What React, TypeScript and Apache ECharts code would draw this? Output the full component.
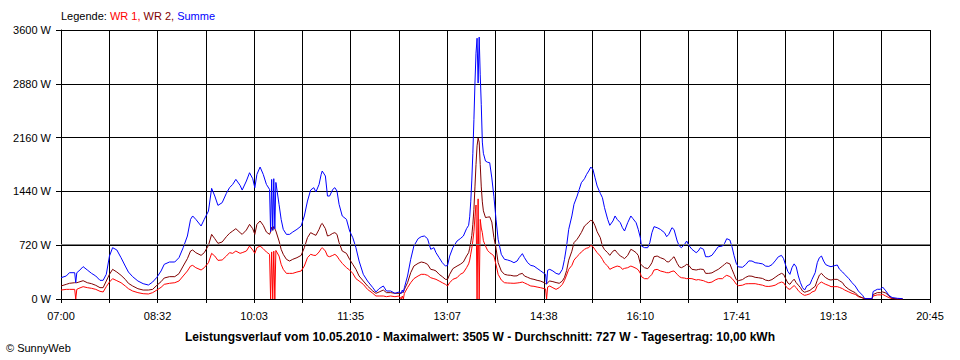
import React, { useEffect, useRef } from "react";
import * as echarts from "echarts";

// minutes after 07:00
const minutes = [0,5,8,13,14,15,17,21,25,29,33,37,40,43,46,49,53,57,61,64,68,73,78,83,87,91,95,98,103,108,112,116,120,123,125,128,133,136,140,143,146,149,153,157,160,163,166,170,172,176,179,182,184,186,189,192,195,198,199,200,201,202,203,204,207,209,211,214,217,220,224,228,231,234,237,240,242,245,247,248,251,253,255,258,260,262,264,267,271,274,277,280,283,287,291,296,299,302,306,309,313,317,321,323,324,325,326,329,332,335,339,342,345,348,351,354,356,359,362,365,367,369,372,376,379,382,385,387,388,389,390,391,392,393,394,395,396,397,398,399,400,401,403,405,407,409,411,413,415,418,421,424,427,430,433,435,438,440,443,446,449,452,455,459,460,461,462,464,467,470,473,476,478,480,482,485,487,490,492,494,497,499,501,503,505,507,509,512,514,516,519,521,524,526,528,531,533,535,538,541,543,546,548,550,551,554,557,559,561,563,566,569,573,575,577,580,582,585,587,589,592,594,596,599,603,605,607,610,612,615,618,621,624,628,630,632,635,637,639,641,643,647,650,653,656,659,662,666,669,672,675,678,681,684,686,688,690,692,694,696,698,700,702,704,706,708,711,713,716,718,720,722,724,726,729,731,734,737,739,742,744,748,751,754,757,761,763,767,770,771,775,778,780,783,786,789,794,799];

const summe = [285,308,352,352,218,352,375,433,388,343,308,250,250,330,575,687,656,553,441,361,299,241,205,187,227,290,375,464,495,495,553,687,843,1066,1111,1066,977,1066,1177,1481,1378,1253,1289,1414,1490,1534,1601,1521,1458,1579,1690,1610,1490,1668,1766,1668,1534,1467,900,1600,920,1610,940,1560,1267,1066,932,865,865,896,932,977,1111,1311,1458,1490,1432,1534,1668,1713,1646,1378,1378,1467,1490,1445,1267,1111,1066,910,821,687,508,330,241,152,94,138,174,107,107,76,94,76,120,90,152,308,531,709,807,834,843,807,665,687,620,553,486,441,450,575,687,776,807,843,941,986,1100,1300,1592,1950,2400,2890,3290,3490,2890,3505,3000,2600,2100,1950,1846,1830,1824,1620,1369,1066,800,598,531,522,508,486,508,553,607,553,486,450,440,410,380,340,330,200,385,397,375,343,330,397,531,709,932,1111,1267,1378,1467,1556,1610,1668,1713,1766,1735,1623,1512,1414,1356,1222,1066,986,1044,1111,1066,1021,954,910,1021,1111,1075,1021,932,821,709,687,687,754,887,968,954,932,887,834,865,954,930,776,709,687,731,776,718,665,620,642,687,665,566,566,585,642,700,709,745,807,790,700,580,480,430,425,460,510,508,486,480,470,440,436,460,510,565,584,540,450,370,330,420,470,430,308,218,152,120,174,196,263,352,486,553,575,508,460,441,432,445,455,400,361,330,272,218,174,107,49,5,5,5,100,130,130,160,110,49,20,9,5];

const wr2 = [174,196,210,218,218,218,227,245,218,205,183,152,152,241,330,397,361,317,263,210,174,138,120,120,129,183,232,281,299,299,339,441,540,642,656,620,584,620,718,865,807,745,763,834,879,910,941,888,865,923,999,941,865,999,1044,986,896,865,900,960,920,970,940,910,776,665,598,531,508,531,553,584,687,821,888,865,852,932,999,1012,941,843,852,879,888,865,754,642,611,531,464,397,308,241,174,107,76,94,120,85,85,76,76,76,90,90,129,218,352,441,477,495,486,464,397,388,375,330,299,263,263,330,406,441,464,495,575,620,680,760,850,1000,1200,1500,1800,2050,2154,2100,1800,1500,1300,1180,1090,1095,1100,1030,821,680,486,375,330,320,317,308,310,330,343,308,290,272,263,250,241,218,205,200,220,241,232,220,210,241,290,380,520,640,754,800,843,890,977,1000,1030,1053,1040,980,900,820,709,660,620,584,640,655,620,575,560,540,584,665,650,620,584,470,455,419,406,440,486,566,575,553,531,500,495,540,566,477,430,419,441,464,450,397,388,395,400,395,343,343,350,375,397,441,464,486,470,397,330,260,245,260,290,308,305,290,285,275,252,245,260,290,320,343,330,272,215,196,235,265,218,185,152,107,90,100,115,138,170,250,320,343,310,285,260,254,263,263,245,218,174,129,105,85,40,15,5,5,5,60,85,85,95,80,40,9,0,0];

const wr1 = [120,129,129,129,0,129,143,165,152,143,129,103,94,165,227,272,245,218,174,138,107,85,71,67,85,120,156,196,210,218,241,308,375,441,450,419,388,419,486,611,575,517,522,575,620,611,642,611,620,642,709,656,611,687,709,673,629,598,0,630,0,640,0,650,575,464,397,343,343,343,361,375,441,553,598,584,584,629,673,687,642,575,566,584,598,575,531,477,419,388,343,272,241,196,129,76,40,40,40,31,40,31,40,0,40,0,76,152,218,272,308,330,330,317,285,272,263,241,218,196,174,218,263,285,330,352,419,470,520,600,680,780,900,1100,1258,0,1340,0,1066,950,887,780,709,650,620,600,575,460,330,254,218,214,212,210,214,218,227,215,195,174,170,160,152,138,135,0,160,174,150,129,152,196,250,320,397,450,520,570,598,630,665,680,687,718,700,660,620,575,531,480,441,397,419,430,441,430,397,410,419,441,430,410,390,343,300,272,272,300,330,388,397,375,361,352,352,370,375,330,300,285,280,272,275,272,254,260,254,245,232,218,227,254,272,272,299,317,300,275,241,200,178,185,203,205,205,205,196,185,170,168,174,185,210,227,218,174,140,129,155,180,152,110,85,62,49,55,70,94,110,180,210,227,210,196,180,165,165,165,155,138,120,94,75,62,31,15,5,5,5,40,55,55,62,40,18,5,0,0];

const tickLabels = ["07:00", "08:32", "10:03", "11:35", "13:07", "14:38", "16:10", "17:41", "19:13", "20:45"];
const yTicks = [0, 720, 1440, 2160, 2880, 3600];
const average = 727;
const seriesNames = ["WR 1", "WR 2", "Summe"];
const titleText = "Leistungsverlauf vom 10.05.2010 - Maximalwert: 3505 W - Durchschnitt: 727 W - Tagesertrag: 10,00 kWh";

const SPAN_MIN = 825; // 07:00 .. 20:45
const SLOTS = 18;
const FONT = '"Liberation Sans", Arial, sans-serif';

export default function App() {
  const ref = useRef<HTMLDivElement>(null);

  useEffect(() => {
    if (!ref.current) return;
    const chart = echarts.init(ref.current, null, { renderer: "svg" });
    const toPts = (vals: number[]) => minutes.map((m, i) => [(m * SLOTS) / SPAN_MIN, vals[i]]);
    const lineSeries = (name: string, vals: number[], color: string, extra: any = {}) => ({
      name,
      type: "line",
      data: toPts(vals),
      showSymbol: false,
      symbol: "none",
      lineStyle: { color, width: 1 },
      itemStyle: { color },
      emphasis: { disabled: true },
      silent: true,
      ...extra,
    });

    chart.setOption({
      animation: false,
      backgroundColor: "#ffffff",
      grid: { left: 61, top: 30, width: 869, height: 269, containLabel: false, outerBoundsMode: "none" },
      xAxis: {
        type: "value",
        min: 0,
        max: SLOTS,
        interval: 1,
        axisLine: { show: true, lineStyle: { color: "#000", width: 1 } },
        axisTick: { show: true, length: 4, lineStyle: { color: "#000" } },
        splitLine: { show: true, lineStyle: { color: "#000", width: 1 } },
        axisLabel: {
          color: "#000",
          fontSize: 11,
          fontFamily: FONT,
          margin: 11,
          showMinLabel: true,
          showMaxLabel: true,
          formatter: (v: number) => {
            const k = Math.round(v);
            return k % 2 === 0 ? tickLabels[k / 2] : "";
          },
        },
      },
      yAxis: {
        type: "value",
        min: yTicks[0],
        max: yTicks[yTicks.length - 1],
        interval: yTicks[1] - yTicks[0],
        axisLine: { show: true, lineStyle: { color: "#000", width: 1 } },
        axisTick: { show: true, length: 5, lineStyle: { color: "#000" } },
        splitLine: { show: true, lineStyle: { color: "#000", width: 1 } },
        axisLabel: {
          color: "#000",
          fontSize: 11,
          fontFamily: FONT,
          margin: 10,
          formatter: (v: number) => `${v} W`,
        },
      },
      series: [
        lineSeries(seriesNames[0], wr1, "#ff0000", {
          markLine: {
            silent: true,
            symbol: "none",
            label: { show: false },
            lineStyle: { color: "#808080", width: 1, type: "solid" },
            data: [{ yAxis: average }],
          },
        }),
        lineSeries(seriesNames[1], wr2, "#800000"),
        lineSeries(seriesNames[2], summe, "#0000ff"),
      ],
      graphic: [
        {
          type: "text",
          x: 61,
          y: 16,
          style: {
            text: `{k|Legende: }{a|${seriesNames[0]}, }{b|${seriesNames[1]}, }{c|${seriesNames[2]}}`,
            textVerticalAlign: "middle",
            font: `11px ${FONT}`,
            rich: {
              k: { fill: "#000000", fontSize: 11, fontFamily: FONT },
              a: { fill: "#ff0000", fontSize: 11, fontFamily: FONT },
              b: { fill: "#800000", fontSize: 11, fontFamily: FONT },
              c: { fill: "#0000ff", fontSize: 11, fontFamily: FONT },
            },
          },
        },
        {
          type: "text",
          x: 480,
          y: 337,
          style: {
            text: titleText,
            fill: "#000",
            font: `bold 12px ${FONT}`,
            textAlign: "center",
            textVerticalAlign: "middle",
          },
        },
        {
          type: "text",
          x: 6,
          y: 348,
          style: {
            text: "© SunnyWeb",
            fill: "#000",
            font: `11px ${FONT}`,
            textVerticalAlign: "middle",
          },
        },
      ],
    });
    return () => chart.dispose();
  }, []);

  return (
    <div
      ref={ref}
      style={{ position: "fixed", left: 0, top: 0, width: 960, height: 360, background: "#fff" }}
    />
  );
}
